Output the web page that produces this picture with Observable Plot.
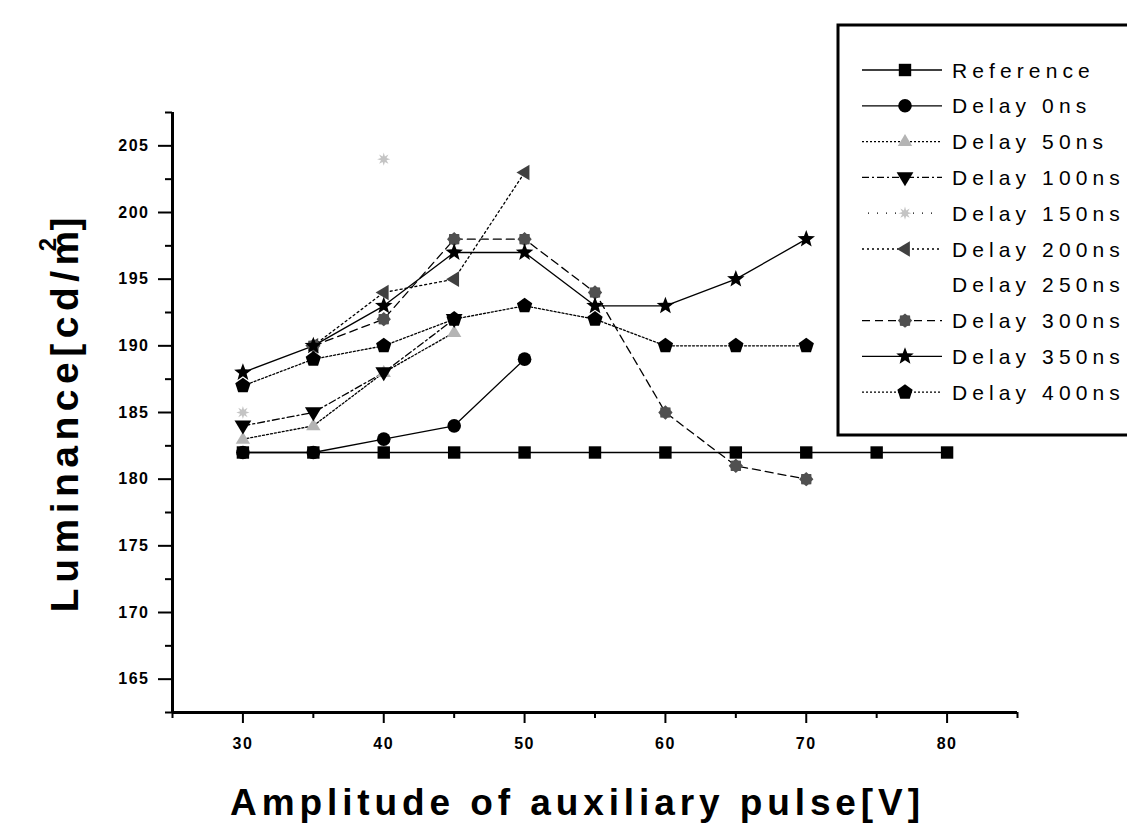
<!DOCTYPE html>
<html><head><meta charset="utf-8">
<script src="https://cdn.jsdelivr.net/npm/d3@7"></script>
<script src="https://cdn.jsdelivr.net/npm/@observablehq/plot@0.6"></script>
<style>
body{margin:0;background:#fff}
#chart{position:relative;width:1127px;height:827px;overflow:hidden}
</style>
</head><body><div id="chart"></div>
<script>
// ---- data ----
const amplitude = [30, 35, 40, 45, 50, 55, 60, 65, 70, 75, 80];
const reference = [182, 182, 182, 182, 182, 182, 182, 182, 182, 182, 182];
const delay0    = [182, 182, 183, 184, 189, null, null, null, null, null, null];
const delay50   = [183, 184, 188, 191, null, null, null, null, null, null, null];
const delay100  = [184, 185, 188, 192, null, null, null, null, null, null, null];
const delay150  = [185, null, 204, null, null, null, null, null, null, null, null];
const delay200  = [null, 190, 194, 195, 203, null, null, null, null, null, null];
const delay250  = [null, null, null, null, null, null, null, null, null, null, null];
const delay300  = [null, 190, 192, 198, 198, 194, 185, 181, 180, null, null];
const delay350  = [188, 190, 193, 197, 197, 193, 193, 195, 198, null, null];
const delay400  = [187, 189, 190, 192, 193, 192, 190, 190, 190, null, null];
const seriesNames = ["Reference", "Delay 0ns", "Delay 50ns", "Delay 100ns", "Delay 150ns",
  "Delay 200ns", "Delay 250ns", "Delay 300ns", "Delay 350ns", "Delay 400ns"];
const seriesValues = [reference, delay0, delay50, delay100, delay150, delay200, delay250, delay300, delay350, delay400];
const xTicks = [30, 40, 50, 60, 70, 80];
const xMinorTicks = [25, 35, 45, 55, 65, 75, 85];
const yTicks = [165, 170, 175, 180, 185, 190, 195, 200, 205];
const yMinorTicks = [162.5, 167.5, 172.5, 177.5, 182.5, 187.5, 192.5, 197.5, 202.5, 207.5];

// ---- custom symbols ----
const triangleDown = {draw(c, size){ const R = Math.sqrt(size/Math.PI);
  c.moveTo(0, 1.25*R); c.lineTo(-1.2*R, -0.75*R); c.lineTo(1.2*R, -0.75*R); c.closePath(); }};
const triangleUp = {draw(c, size){ const R = Math.sqrt(size/Math.PI);
  c.moveTo(0, -1.25*R); c.lineTo(-1.2*R, 0.75*R); c.lineTo(1.2*R, 0.75*R); c.closePath(); }};
const triangleLeft = {draw(c, size){ const R = Math.sqrt(size/Math.PI);
  c.moveTo(-1.25*R, 0); c.lineTo(0.75*R, -1.2*R); c.lineTo(0.75*R, 1.2*R); c.closePath(); }};
const pentagon = {draw(c, size){ const R = Math.sqrt(size/Math.PI)*1.15;
  for (let k = 0; k < 5; k++){ const a = -Math.PI/2 + k*2*Math.PI/5;
    k ? c.lineTo(R*Math.cos(a), R*Math.sin(a)) : c.moveTo(R*Math.cos(a), R*Math.sin(a)); }
  c.closePath(); }};
const flower = {draw(c, size){ const R = Math.sqrt(size/Math.PI)*1.1;
  for (let k = 0; k < 16; k++){ const a = k*Math.PI/8, rr = k%2 ? R*0.8 : R;
    k ? c.lineTo(rr*Math.cos(a), rr*Math.sin(a)) : c.moveTo(rr*Math.cos(a), rr*Math.sin(a)); }
  c.closePath(); }};
const asterisk8 = {draw(c, size){ const R = Math.sqrt(size/Math.PI)*1.1;
  for (let k = 0; k < 16; k++){ const a = k*Math.PI/8, rr = k%2 ? R*0.45 : R;
    k ? c.lineTo(rr*Math.cos(a), rr*Math.sin(a)) : c.moveTo(rr*Math.cos(a), rr*Math.sin(a)); }
  c.closePath(); }};
const starSym = {draw(c, size){ const R = Math.sqrt(size/Math.PI)*1.15;
  for (let k = 0; k < 10; k++){ const a = -Math.PI/2 + k*Math.PI/5, rr = k%2 ? R*0.42 : R;
    k ? c.lineTo(rr*Math.cos(a), rr*Math.sin(a)) : c.moveTo(rr*Math.cos(a), rr*Math.sin(a)); }
  c.closePath(); }};

const styles = [
  {symbol: d3.symbolSquare, r: 7,   fill: "black",  dash: null},
  {symbol: d3.symbolCircle, r: 6.8, fill: "black",  dash: null},
  {symbol: triangleUp,   r: 6,   fill: "#b4b4b4", dash: "2,2"},
  {symbol: triangleDown, r: 7,   fill: "black",  dash: "7,3,2,3"},
  {symbol: asterisk8,    r: 6,   fill: "#c4c4c4", dash: "none"},
  {symbol: triangleLeft, r: 6.5, fill: "#404040", dash: "2,3"},
  {symbol: null,         r: 0,   fill: "none",   dash: "none"},
  {symbol: flower,       r: 6.5, fill: "#505050", dash: "8,5"},
  {symbol: starSym,      r: 8,   fill: "black",  dash: null},
  {symbol: pentagon,     r: 7,   fill: "black",  dash: "2,2"}
];

const rowsOf = vals => amplitude.map((x, j) => ({x, y: vals[j]})).filter(d => d.y != null);

const marks = [];
seriesValues.forEach((vals, i) => {
  const st = styles[i];
  if (st.dash === "none") return;
  marks.push(Plot.line(rowsOf(vals), {x: "x", y: "y", stroke: "black", strokeWidth: 1.3,
    strokeDasharray: st.dash || undefined}));
});
seriesValues.forEach((vals, i) => {
  const st = styles[i];
  if (!st.symbol) return;
  marks.push(Plot.dot(rowsOf(vals), {x: "x", y: "y", symbol: st.symbol, r: st.r, fill: st.fill, stroke: "none"}));
});

const plot = Plot.plot({
  width: 1127, height: 827,
  marginLeft: 172, marginRight: 110, marginTop: 112, marginBottom: 115,
  style: {fontFamily: "Liberation Sans, Arial, sans-serif", fontSize: "16px", background: "white", color: "black"},
  x: {domain: [25, 85]},
  y: {domain: [162.5, 207.5]},
  marks: [
    Plot.axisX({ticks: xTicks, tickSize: 11, tickPadding: 14, label: null, strokeWidth: 2, fontWeight: "bold"}),
    Plot.axisX({ticks: xMinorTicks, tickSize: 6, tickFormat: () => "", label: null, strokeWidth: 2}),
    Plot.axisY({ticks: yTicks, tickSize: 14, tickPadding: 9, label: null, strokeWidth: 2, fontWeight: "bold"}),
    Plot.axisY({ticks: yMinorTicks, tickSize: 7, tickFormat: () => "", label: null, strokeWidth: 2}),
    Plot.ruleY([162.5], {strokeWidth: 3}),
    Plot.ruleX([25], {strokeWidth: 3}),
    ...marks
  ]
});
document.getElementById("chart").appendChild(plot);
d3.select(plot).selectAll("[aria-label='x-axis tick label'] text, [aria-label='y-axis tick label'] text")
  .attr("letter-spacing", 1.5);

// ---- titles and legend ----
const svg = d3.select(plot);
svg.append("text")
  .attr("x", 575).attr("y", 815)
  .attr("text-anchor", "middle")
  .attr("font-family", "Liberation Sans, Arial, sans-serif")
  .attr("font-size", 37).attr("font-weight", "bold")
  .attr("textLength", 690).attr("lengthAdjust", "spacing")
  .text("Amplitude of auxiliary pulse[V]");

const yt = svg.append("text")
  .attr("transform", "translate(78,412) rotate(-90)")
  .attr("text-anchor", "middle")
  .attr("font-family", "Liberation Sans, Arial, sans-serif")
  .attr("font-size", 39).attr("font-weight", "bold")
  .attr("letter-spacing", 5.5);
yt.append("tspan").text("Luminance[cd/m");
yt.append("tspan").attr("font-size", 24).attr("dy", -22).attr("dx", -26).text("2");
yt.append("tspan").attr("dy", 22).attr("dx", 2).text("]");

const lg = svg.append("g").attr("text-anchor", "start");
lg.append("rect").attr("x", 838).attr("y", 25).attr("width", 320).attr("height", 410)
  .attr("fill", "white").attr("stroke", "black").attr("stroke-width", 3);
seriesNames.forEach((name, i) => {
  const st = styles[i];
  const y = 70 + i * 35.8;
  if (st.dash !== "none") {
    lg.append("line").attr("x1", 862).attr("x2", 942).attr("y1", y).attr("y2", y)
      .attr("stroke", "black").attr("stroke-width", 1.3)
      .attr("stroke-dasharray", st.dash || null);
  } else if (st.symbol) {
    lg.append("line").attr("x1", 868).attr("x2", 932).attr("y1", y).attr("y2", y)
      .attr("stroke", "black").attr("stroke-width", 1.2).attr("stroke-dasharray", "1,8");
  }
  if (st.symbol) {
    lg.append("path").attr("transform", `translate(905,${y})`)
      .attr("d", d3.symbol(st.symbol, st.r * st.r * Math.PI)())
      .attr("fill", st.fill);
  }
  lg.append("text").attr("x", 952).attr("y", y).attr("dy", "0.36em")
    .attr("text-anchor", "start")
    .attr("font-family", "Liberation Sans, Arial, sans-serif")
    .attr("font-size", 21).attr("letter-spacing", 5.1)
    .text(name);
});
</script>
</body></html>
